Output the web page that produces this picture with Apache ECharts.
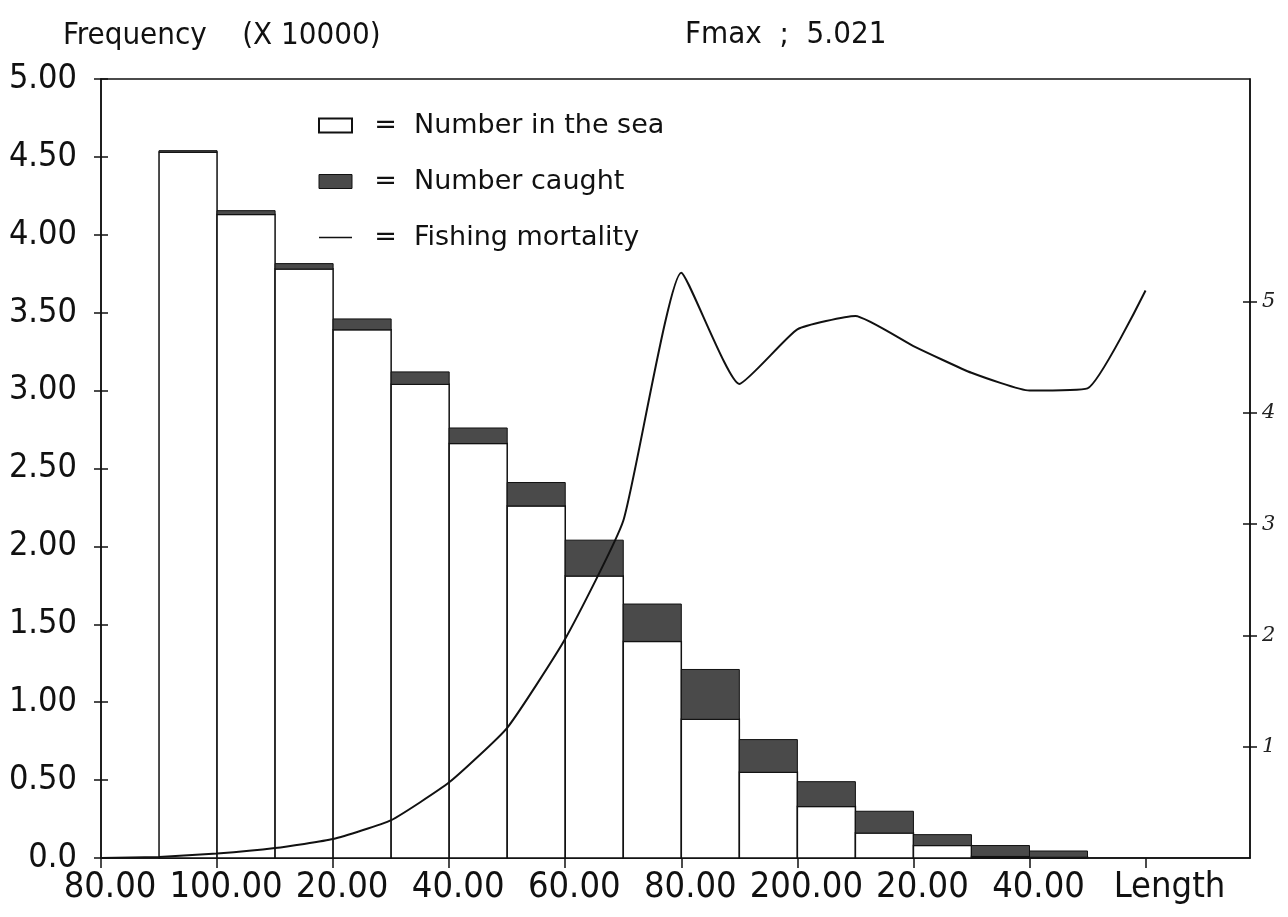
<!DOCTYPE html>
<html>
<head>
<meta charset="utf-8">
<script src="https://cdn.jsdelivr.net/npm/echarts@6/dist/echarts.min.js"></script>
<style>
html,body{margin:0;padding:0;background:#fff;}
#chart{width:1288px;height:917px;}
</style>
</head>
<body>
<div id="chart"></div>
<script>
// ---- data ----
const binStart = [90,100,110,120,130,140,150,160,170,180,190,200,210,220,230,240];
const binWidth = 10;
const numberInSea = [4.53,4.13,3.78,3.39,3.04,2.66,2.26,1.81,1.39,0.89,0.55,0.33,0.16,0.08,0.01,0.005];
const numberCaught = [0.01,0.025,0.035,0.07,0.08,0.10,0.15,0.23,0.24,0.32,0.21,0.16,0.14,0.07,0.07,0.04];
const fLength = [80,90,100,110,120,130,140,150,160,170,180,190,200,210,220,230,240,250,260];
const fishingMortality = [0.00,0.01,0.04,0.09,0.17,0.34,0.68,1.17,1.97,3.03,5.26,4.26,4.75,4.87,4.60,4.36,4.20,4.22,5.10];
const xTicks = [80,100,120,140,160,180,200,220,240,260];
const rightTicks = [1,2,3,4,5];

const narrow = "'Liberation Sans Narrow','DejaVu Sans Condensed','Roboto Condensed','Liberation Sans',sans-serif";
const ink = '#111';

const seaData = binStart.map((s,i)=>[s, 0, numberInSea[i]]);
const caughtData = binStart.map((s,i)=>[s, numberInSea[i], numberInSea[i]+numberCaught[i]]);
const lineData = fLength.map((l,i)=>[l, fishingMortality[i]]);

function renderBin(params, api){
  const x0 = api.value(0), lo = api.value(1), hi = api.value(2);
  const p0 = api.coord([x0, hi]);
  const p1 = api.coord([x0 + binWidth, lo]);
  return {type:'rect', shape:{x:p0[0], y:p0[1], width:p1[0]-p0[0], height:p1[1]-p0[1]}, style: api.style()};
}

function xLabel(v){
  if (v === 260) return '{len|Length}';
  if (v === 100 || v === 200) return v.toFixed(2);
  return (v % 100).toFixed(2);
}

const chart = echarts.init(document.getElementById('chart'));
chart.setOption({
  animation:false,
  backgroundColor:'#fff',
  title:[
    {text:'Frequency    (X 10000)', left:58, top:15, textStyle:{fontFamily:narrow, fontSize:31, fontWeight:'normal', color:ink}},
    {text:'Fmax  ;  5.021', left:680, top:14, textStyle:{fontFamily:narrow, fontSize:31, fontWeight:'normal', color:ink}}
  ],
  legend:{
    orient:'vertical', left:313, top:107, itemWidth:33, itemHeight:14, itemGap:29,
    symbolKeepAspect:true,
    textStyle:{fontFamily:"'DejaVu Sans',sans-serif", fontSize:27, color:ink},
    formatter: n => '  =  ' + n,
    data:[
      {name:'Number in the sea', icon:'rect', itemStyle:{color:'#fff', borderColor:ink, borderWidth:2}},
      {name:'Number caught', icon:'rect', itemStyle:{color:'#4a4a4a', borderColor:ink, borderWidth:1}},
      {name:'Fishing mortality', icon:'path://M0,0 L32,0 L32,1.6 L0,1.6 Z', itemStyle:{color:ink, borderWidth:0}}
    ]
  },
  grid:{left:101, right:38, top:79, bottom:59, show:true, borderColor:ink, borderWidth:1.5, backgroundColor:'transparent'},
  xAxis:{
    type:'value', min:80, max:278, interval:20,
    axisLine:{show:true, lineStyle:{color:ink, width:1.5}},
    axisTick:{show:true, length:10, customValues:xTicks, lineStyle:{color:ink, width:1.5}},
    axisLabel:{customValues:xTicks, formatter:xLabel, fontFamily:narrow, fontSize:36, color:ink, margin:12,
               padding:[0,0,0,18], rich:{len:{fontFamily:narrow, fontSize:36, color:ink, padding:[0,0,0,30]}}},
    splitLine:{show:false}
  },
  yAxis:[
    {type:'value', position:'left', min:0, max:5, interval:0.5,
     axisLine:{show:true, lineStyle:{color:ink, width:1.5}},
     axisTick:{show:true, length:7, lineStyle:{color:ink, width:1.5}},
     axisLabel:{formatter:v => v === 0 ? '0.0' : v.toFixed(2), fontFamily:narrow, fontSize:34, color:ink, margin:24},
     splitLine:{show:false}},
    {type:'value', position:'right', min:0, max:7, interval:1,
     axisLine:{show:true, lineStyle:{color:ink, width:1.5}},
     axisTick:{show:true, length:7, customValues:rightTicks, lineStyle:{color:ink, width:1.5}},
     axisLabel:{customValues:rightTicks, fontFamily:"'DejaVu Serif',serif", fontStyle:'italic', fontSize:21, color:'#222', margin:12},
     splitLine:{show:false}},
    {type:'value', position:'left', min:0, max:5, interval:0.5,
     axisLine:{show:false}, axisLabel:{show:false}, splitLine:{show:false},
     axisTick:{show:true, inside:true, length:7, lineStyle:{color:ink, width:1.5}}},
    {type:'value', position:'right', min:0, max:7, interval:1,
     axisLine:{show:false}, axisLabel:{show:false}, splitLine:{show:false},
     axisTick:{show:true, inside:true, length:7, customValues:rightTicks, lineStyle:{color:ink, width:1.5}}}
  ],
  series:[
    {name:'Number in the sea', type:'custom', renderItem:renderBin, data:seaData,
     encode:{x:0, y:[1,2]}, yAxisIndex:0,
     itemStyle:{color:'#fff', borderColor:ink, borderWidth:1.5}, z:2},
    {name:'Number caught', type:'custom', renderItem:renderBin, data:caughtData,
     encode:{x:0, y:[1,2]}, yAxisIndex:0,
     itemStyle:{color:'#4a4a4a', borderColor:ink, borderWidth:1}, z:3},
    {name:'Fishing mortality', type:'line', yAxisIndex:1, data:lineData,
     symbol:'none', showSymbol:false, smooth:0.15,
     lineStyle:{color:ink, width:2}, itemStyle:{color:ink}, z:5}
  ]
});
</script>
</body>
</html>
